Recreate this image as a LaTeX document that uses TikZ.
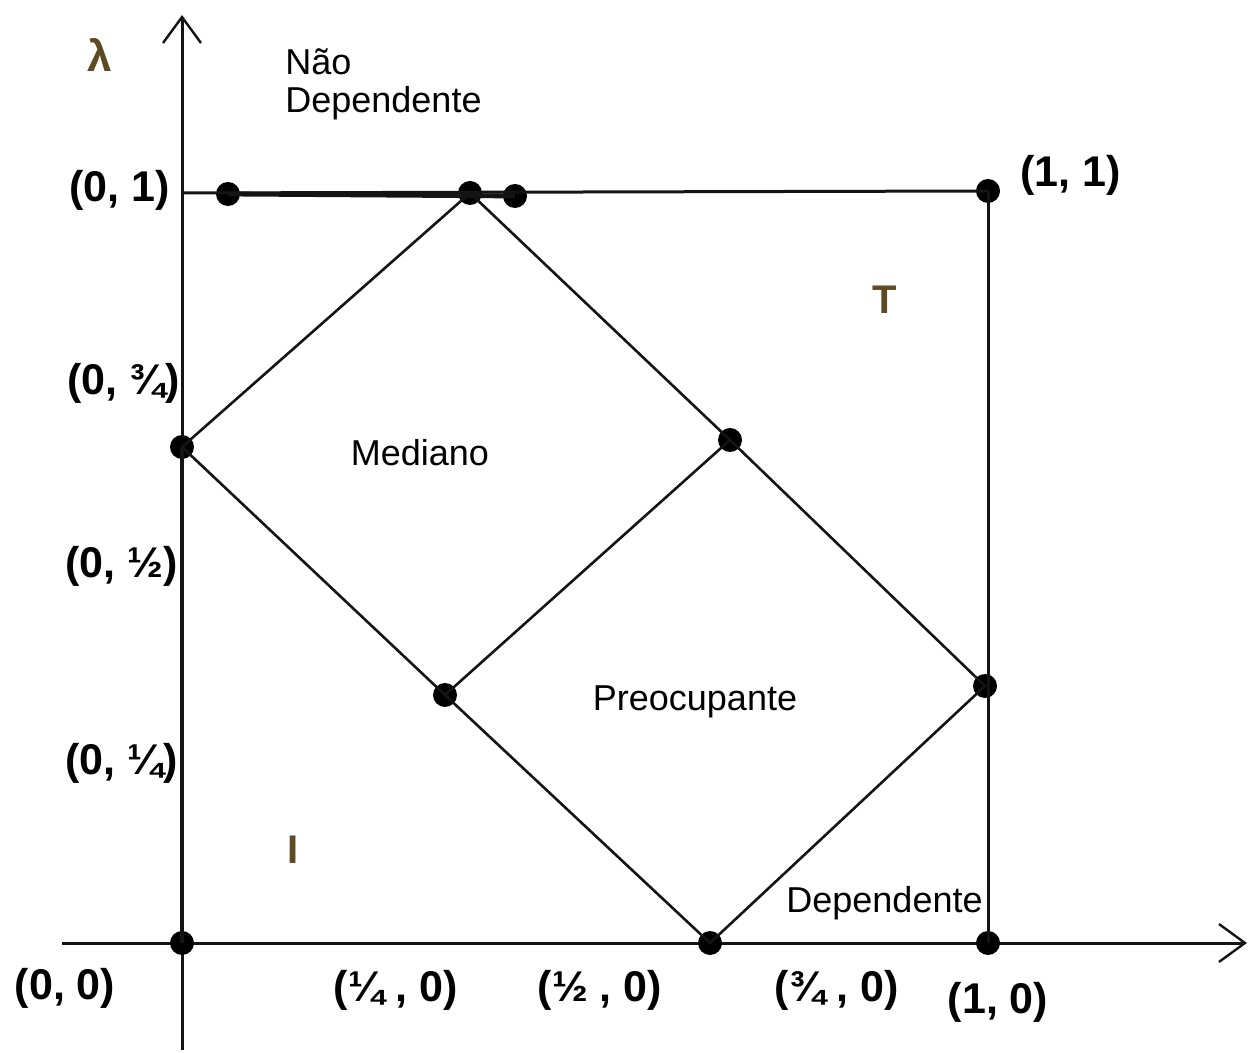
\documentclass[tikz,border=0pt]{standalone}
\usepackage{fontspec}
\setmainfont{Liberation Sans}
\usetikzlibrary{arrows.meta}
\definecolor{brn}{RGB}{95,75,35}
\definecolor{ink}{RGB}{20,20,20}
\begin{document}
\begin{tikzpicture}[x=0.5pt,y=-0.5pt,
  dot/.style={circle,fill=black,inner sep=0pt,minimum size=12pt},
  coord/.style={font=\bfseries\fontsize{21.5}{24}\selectfont,inner sep=0pt},
  lbl/.style={font=\fontsize{18}{19}\selectfont,inner sep=0pt},
  big/.style={font=\bfseries\fontsize{20}{22}\selectfont,text=brn,inner sep=0pt},
  axis/.style={line width=1.5pt,draw=ink},
  edge/.style={line width=1.3pt,draw=ink}]
\useasboundingbox (0,0) rectangle (1249,1053);
% axes
\coordinate (ybot) at (182,1050);
\coordinate (ytop) at (182,15);
\coordinate (xl) at (62,943);
\coordinate (xr) at (1247,943);
\draw[axis,-{Straight Barb[length=13pt,width=19pt,line width=1.2pt]}] (ybot) -- (ytop);
\draw[axis,-{Straight Barb[length=13pt,width=19pt,line width=1.2pt]}] (xl) -- (xr);
% dots
\node[dot] (A) at (228,194) {};
\node[dot] (B) at (470,193) {};
\node[dot] (C) at (515,196) {};
\node[dot] (D) at (988,191) {};
\node[dot] (E) at (182,447) {};
\node[dot] (F) at (730,440) {};
\node[dot] (G) at (445,695) {};
\node[dot] (H) at (985,686) {};
\node[dot] (O) at (182,943) {};
\node[dot] (K) at (710,943) {};
\node[dot] (L) at (988,943) {};
\coordinate (Y1) at (182,193);
% top and right edges
\draw[axis] (Y1) -- (D.center);
\draw[line width=2.4pt,draw=ink] (A.center) -- (C.center);
\draw[axis] (D.center) -- (L.center);
% diamond
\draw[edge] (E.center) -- (B.center) -- (F.center) -- (H.center) -- (K.center) -- (G.center) -- (E.center);
\draw[edge] (G.center) -- (F.center);
\draw[line width=2pt,draw=ink] (O.center) -- (E.center);
% labels
\node[big,font=\bfseries\fontsize{22}{24}\selectfont] (lam) at (100,55) {λ};
\node[lbl,align=left,anchor=west] (nd) at (285,84) {Não\\Dependente};
\node[coord,anchor=east] (l01) at (170,190) {(0, 1)};
\node[coord,anchor=west] (l11) at (1020,175) {(1, 1)};
\node[big] (T) at (885,300) {T};
\node[coord,anchor=east] (l034) at (180,383) {(0, ¾)};
\node[lbl] (med) at (420,453) {Mediano};
\node[coord,anchor=east] (l012) at (178,566) {(0, ½)};
\node[lbl] (pre) at (695,702) {Preocupante};
\node[coord,anchor=east] (l014) at (178,763) {(0, ¼)};
\node[big] (I) at (293,850) {I};
\node[lbl,anchor=east] (dep) at (983,903) {Dependente};
\node[coord] (l00) at (65,988) {(0, 0)};
\node[coord] (l140) at (396,990) {(¼ , 0)};
\node[coord] (l120) at (600,990) {(½ , 0)};
\node[coord] (l340) at (837,990) {(¾ , 0)};
\node[coord] (l10) at (998,1002) {(1, 0)};
\end{tikzpicture}
\end{document}
